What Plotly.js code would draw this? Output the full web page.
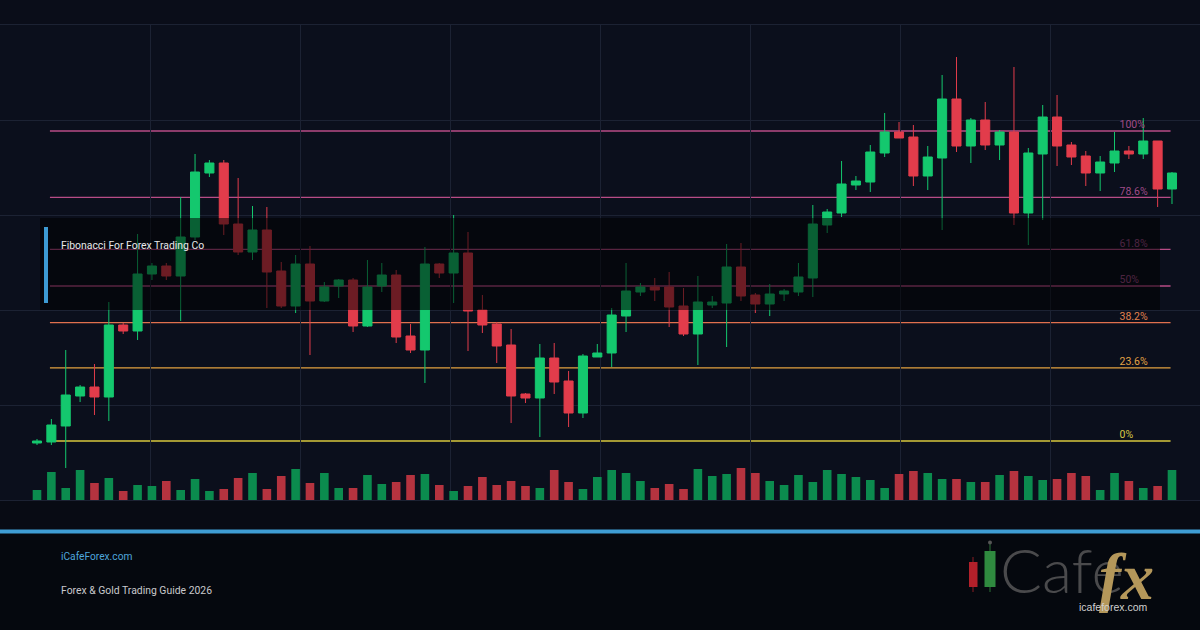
<!DOCTYPE html>
<html><head><meta charset="utf-8">
<script src="https://cdn.plot.ly/plotly-3.0.1.min.js"></script>
<style>html,body{margin:0;padding:0;background:#070a12;}#chart{width:1200px;height:630px;}</style>
</head><body><div id="chart"></div>
<script>
// ---- data ----
const openP = [1.0798,1.0799,1.0815,1.0845,1.0854,1.0844,1.0916,1.0910,1.0967,1.0975,
 1.0965,1.1004,1.1068,1.1078,1.1017,1.0989,1.1011,1.0970,1.0935,1.0977,
 1.0940,1.0955,1.0961,1.0915,1.0955,1.0966,1.0905,1.0891,1.0977,1.0968,
 1.0988,1.0931,1.0917,1.0896,1.0847,1.0843,1.0883,1.0860,1.0828,1.0884,
 1.0888,1.0925,1.0949,1.0954,1.0954,1.0935,1.0907,1.0936,1.0938,1.0974,
 1.0946,1.0937,1.0947,1.0949,1.0963,1.1016,1.1028,1.1056,1.1059,1.1088,
 1.1109,1.1104,1.1065,1.1083,1.1142,1.1095,1.1121,1.1096,1.1109,1.1028,
 1.1087,1.1124,1.1096,1.1085,1.1068,1.1078,1.1090,1.1087,1.1100,1.1052];
const highP = [1.0802,1.0822,1.0891,1.0856,1.0877,1.0939,1.0918,1.1007,1.0978,1.0978,
 1.1044,1.1087,1.1081,1.1081,1.1063,1.1035,1.1034,1.0979,1.0986,1.0995,
 1.0959,1.0962,1.0963,1.0981,1.0978,1.0971,1.0917,1.0994,1.0978,1.1026,
 1.1009,1.0946,1.0919,1.0912,1.0848,1.0897,1.0898,1.0870,1.0887,1.0897,
 1.0933,1.0978,1.0958,1.0963,1.0969,1.0953,1.0965,1.0945,1.0997,1.0998,
 1.0948,1.0957,1.0952,1.0978,1.1036,1.1032,1.1080,1.1065,1.1096,1.1128,
 1.1119,1.1116,1.1095,1.1166,1.1184,1.1123,1.1139,1.1111,1.1174,1.1093,
 1.1136,1.1146,1.1099,1.1090,1.1085,1.1109,1.1095,1.1123,1.1100,1.1069];
const lowP = [1.0796,1.0796,1.0773,1.0839,1.0826,1.0820,1.0907,1.0901,1.0961,1.0961,
 1.0920,1.1001,1.1064,1.1006,1.0986,1.0981,1.0933,1.0933,1.0928,1.0886,
 1.0939,1.0943,1.0909,1.0914,1.0949,1.0898,1.0888,1.0858,1.0963,1.0938,
 1.0890,1.0908,1.0878,1.0818,1.0838,1.0804,1.0847,1.0814,1.0823,1.0884,
 1.0874,1.0909,1.0945,1.0940,1.0914,1.0905,1.0876,1.0933,1.0894,1.0940,
 1.0928,1.0925,1.0940,1.0945,1.0944,1.1008,1.1024,1.1051,1.1049,1.1084,
 1.1103,1.1055,1.1051,1.1011,1.1089,1.1078,1.1091,1.1081,1.1016,1.0996,
 1.1021,1.1075,1.1076,1.1055,1.1050,1.1069,1.1082,1.1082,1.1034,1.1037];
const closeP = [1.0800,1.0816,1.0846,1.0854,1.0844,1.0916,1.0910,1.0967,1.0975,1.0965,
 1.1004,1.1069,1.1078,1.1017,1.0989,1.1011,1.0969,1.0935,1.0977,1.0940,
 1.0954,1.0961,1.0915,1.0954,1.0966,1.0904,1.0891,1.0977,1.0968,1.0988,
 1.0930,1.0916,1.0895,1.0845,1.0843,1.0883,1.0859,1.0828,1.0885,1.0888,
 1.0926,1.0950,1.0954,1.0951,1.0934,1.0907,1.0939,1.0939,1.0974,1.0945,
 1.0937,1.0947,1.0950,1.0964,1.1017,1.1029,1.1057,1.1060,1.1089,1.1109,
 1.1103,1.1065,1.1084,1.1142,1.1095,1.1121,1.1096,1.1109,1.1028,1.1088,
 1.1124,1.1095,1.1084,1.1068,1.1079,1.1090,1.1087,1.1100,1.1052,1.1068];
const volume = [1000,2800,1200,3000,1700,2200,900,1500,1400,1900,
 1000,2100,900,1100,2200,2700,1100,2400,3100,1700,
 2700,1200,1200,2500,1600,1800,2500,2600,1500,900,
 1400,2300,1500,1900,1400,1200,3000,1800,1100,2300,
 3000,2700,1900,1200,1600,1100,3100,2400,2600,3200,
 2700,1900,1500,2500,1800,3000,2600,2300,2000,1200,
 2600,2900,2700,2100,2100,1800,1800,2500,2900,2400,
 2000,2100,2700,2400,1000,2700,1900,1200,1400,3000];
const fibLow = 1.0800;
const fibHigh = 1.1110;
const fibRatios = [0, 0.236, 0.382, 0.5, 0.618, 0.786, 1];
const fibLabels = ['0%', '23.6%', '38.2%', '50%', '61.8%', '78.6%', '100%'];
const titleText = 'Fibonacci For Forex Trading Co';
const siteText = 'iCafeForex.com';
const guideText = 'Forex & Gold Trading Guide 2026';

// ---- styles ----
const UP = '#14c86e', DOWN = '#e23c4b';
const VUP = '#0b8b4e', VDOWN = '#b5333f';
const fibLineColors = ['#d9c83c', '#e3a23f', '#e0704e', '#b84c86', '#b84c86', '#b84c86', '#b84c86'];
const fibTextColors = ['#d8c845', '#e2a345', '#e2824e', '#a04c88', '#a04c88', '#a04c88', '#a04c88'];
const GRID = '#1c2233';

const idx = openP.map((_, i) => i);
const fibPrices = fibRatios.map(r => fibLow + (fibHigh - fibLow) * r);

// pixel helpers for decorations (plot area: x 0..1200, y 25..500)
const PX = x => x / 1200;
const PY = y => (500 - y) / 475;

const step = 14.367;
const xmin = -37 / step;
const xmax = xmin + 1200 / step;

const traces = [
  {
    type: 'bar', x: idx, y: volume, yaxis: 'y2', width: 0.6,
    marker: { color: idx.map(i => closeP[i] >= openP[i] ? VUP : VDOWN), line: { width: 0 } },
    hoverinfo: 'skip', showlegend: false
  },
  {
    type: 'candlestick', x: idx, open: openP, high: highP, low: lowP, close: closeP,
    increasing: { line: { color: UP, width: 1 }, fillcolor: UP },
    decreasing: { line: { color: DOWN, width: 1 }, fillcolor: DOWN },
    whiskerwidth: 0, hoverinfo: 'skip', showlegend: false
  },
  {
    type: 'scatter', mode: 'text', x: fibPrices.map(() => 75.35), y: fibPrices,
    text: fibLabels, textposition: 'top right',
    textfont: { family: 'Roboto, Arial, sans-serif', size: 10.5, color: fibTextColors },
    hoverinfo: 'skip', showlegend: false, cliponaxis: false
  }
];

const shapes = [];
// background bands
shapes.push({ type: 'rect', xref: 'paper', yref: 'paper', x0: 0, x1: 1, y0: PY(500), y1: PY(530), fillcolor: '#080b14', line: { width: 0 }, layer: 'below' });
shapes.push({ type: 'rect', xref: 'paper', yref: 'paper', x0: 0, x1: 1, y0: PY(533), y1: PY(630), fillcolor: '#05080e', line: { width: 0 }, layer: 'below' });
// fib lines
fibPrices.forEach((p, k) => {
  shapes.push({ type: 'line', xref: 'x', yref: 'y', x0: 0.9, x1: 78.9, y0: p, y1: p,
    line: { color: fibLineColors[k], width: 1.3 }, layer: 'below' });
});
// dark overlay panel
shapes.push({ type: 'rect', xref: 'paper', yref: 'paper', x0: PX(40), x1: PX(1160), y0: PY(310), y1: PY(218),
  fillcolor: 'rgba(0,0,0,0.52)', line: { width: 0 }, layer: 'above' });
shapes.push({ type: 'rect', xref: 'paper', yref: 'paper', x0: PX(44), x1: PX(48), y0: PY(303), y1: PY(227),
  fillcolor: '#3d9ad2', line: { width: 0 }, layer: 'above' });
// footer blue line
shapes.push({ type: 'rect', xref: 'paper', yref: 'paper', x0: 0, x1: 1, y0: PY(533.5), y1: PY(529.5),
  fillcolor: '#3f9dd4', line: { width: 0 }, layer: 'above' });
// logo candles
shapes.push({ type: 'line', xref: 'paper', yref: 'paper', x0: PX(973), x1: PX(973), y0: PY(557), y1: PY(592), line: { color: '#8a1c22', width: 1 }, layer: 'above' });
shapes.push({ type: 'rect', xref: 'paper', yref: 'paper', x0: PX(969), x1: PX(977.5), y0: PY(587), y1: PY(562), fillcolor: '#b3202a', line: { width: 0 }, layer: 'above' });
shapes.push({ type: 'line', xref: 'paper', yref: 'paper', x0: PX(990), x1: PX(990), y0: PY(543), y1: PY(592), line: { color: '#2a6e35', width: 1 }, layer: 'above' });
shapes.push({ type: 'rect', xref: 'paper', yref: 'paper', x0: PX(984.5), x1: PX(995.5), y0: PY(587), y1: PY(551), fillcolor: '#2f8a3f', line: { width: 0 }, layer: 'above' });
shapes.push({ type: 'circle', xref: 'paper', yref: 'paper', x0: PX(988), x1: PX(992), y0: PY(544.5), y1: PY(540.5), fillcolor: '#555', line: { width: 0 }, layer: 'above' });

const annotations = [
  { xref: 'paper', yref: 'paper', x: PX(59), y: PY(245), xanchor: 'left', yanchor: 'middle', showarrow: false,
    text: titleText, font: { family: 'Roboto, Arial, sans-serif', size: 10.4, color: '#e8e8ea' } },
  { xref: 'paper', yref: 'paper', x: PX(59), y: PY(556), xanchor: 'left', yanchor: 'middle', showarrow: false,
    text: siteText, font: { family: 'Roboto, Arial, sans-serif', size: 10.2, color: '#4ea6dc' } },
  { xref: 'paper', yref: 'paper', x: PX(59), y: PY(590), xanchor: 'left', yanchor: 'middle', showarrow: false,
    text: guideText, font: { family: 'Roboto, Arial, sans-serif', size: 10.4, color: '#c9c9cc' } },
  { xref: 'paper', yref: 'paper', x: PX(998), y: PY(569), xanchor: 'left', yanchor: 'middle', showarrow: false,
    text: 'Cafe', font: { family: 'Lato, "DejaVu Sans", sans-serif', size: 62, weight: 300, color: '#4a4a4c' } },
  { xref: 'paper', yref: 'paper', x: PX(1097), y: PY(576), xanchor: 'left', yanchor: 'middle', showarrow: false,
    text: 'fx', font: { family: '"Liberation Serif", "DejaVu Serif", serif', size: 66, weight: 700, style: 'italic', color: '#b4975a' } },
  { xref: 'paper', yref: 'paper', x: PX(1113), y: PY(607), xanchor: 'center', yanchor: 'middle', showarrow: false,
    text: 'icafeforex.com', font: { family: '"Liberation Sans", Arial, sans-serif', size: 10.5, color: '#d0d0d0' } }
];

const layout = {
  width: 1200, height: 630,
  margin: { l: 0, r: 0, t: 25, b: 130, pad: 0 },
  paper_bgcolor: '#0a0d19',
  plot_bgcolor: '#0b0f1c',
  showlegend: false,
  boxgap: 0.1,
  xaxis: {
    range: [xmin, xmax], type: 'linear', tick0: xmin, dtick: 150 / step,
    showgrid: true, gridcolor: GRID, gridwidth: 1, zeroline: false,
    showticklabels: false, ticks: '', showline: true, mirror: true, linecolor: GRID, linewidth: 1,
    rangeslider: { visible: false }, fixedrange: true
  },
  yaxis: {
    range: [1.0741, 1.1216], tick0: 1.0741, dtick: 0.0095,
    showgrid: true, gridcolor: GRID, gridwidth: 1, zeroline: false,
    showticklabels: false, ticks: '', showline: false, fixedrange: true
  },
  yaxis2: {
    overlaying: 'y', range: [0, 47500], visible: false, showgrid: false, zeroline: false, fixedrange: true
  },
  shapes: shapes,
  annotations: annotations
};

Plotly.newPlot('chart', traces, layout, { staticPlot: true, displayModeBar: false });
</script>
</body></html>
